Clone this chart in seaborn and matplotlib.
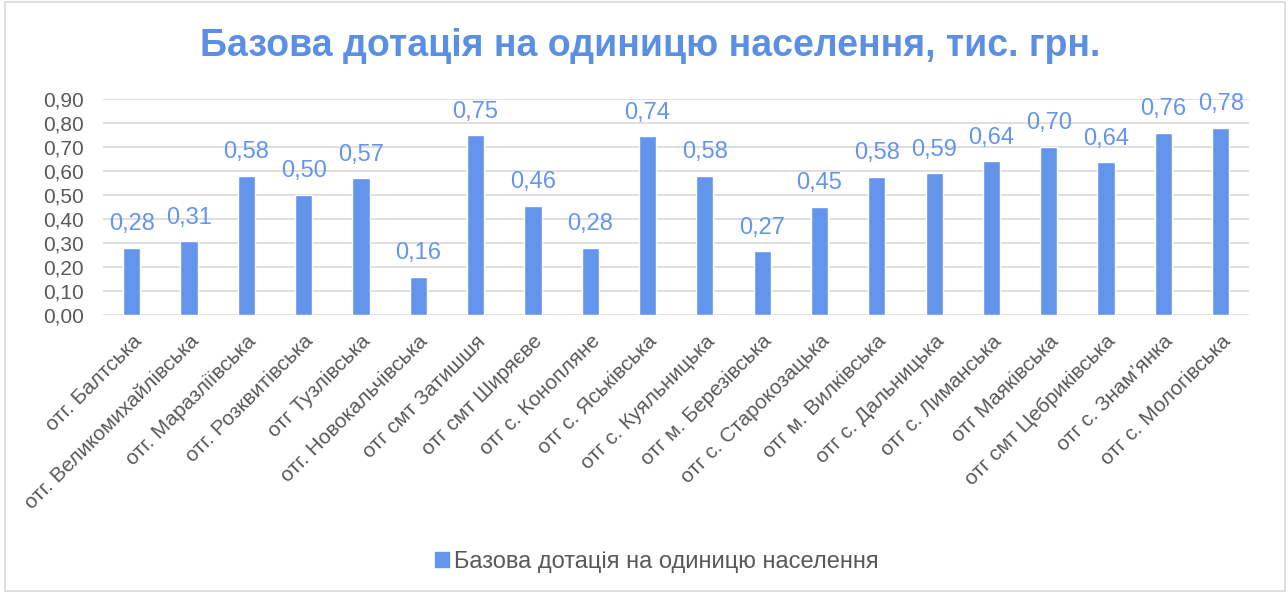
import matplotlib
matplotlib.use("Agg")
import matplotlib.pyplot as plt
import seaborn as sns
import pandas as pd
from matplotlib.patches import Patch, Rectangle

# data
hromadas = [
    "отг. Балтська", "отг. Великомихайлівська", "отг. Маразліївська",
    "отг. Розквитівська", "отг Тузлівська", "отг. Новокальчівська",
    "отг смт Затишшя", "отг смт Ширяєве", "отг с. Конопляне",
    "отг с. Яськівська", "отг с. Куяльницька", "отг м. Березівська",
    "отг с. Старокозацька", "отг м. Вилківська", "отг с. Дальницька",
    "отг с. Лиманська", "отг Маяківська", "отг смт Цебриківська",
    "отг с. Знам\u2019янка", "отг с. Мологівська",
]
dotation = [0.28, 0.306, 0.58, 0.50, 0.57, 0.16, 0.75, 0.456, 0.28, 0.745,
            0.58, 0.266, 0.45, 0.576, 0.59, 0.64, 0.70, 0.636, 0.76, 0.78]
value_labels = ["0,28", "0,31", "0,58", "0,50", "0,57", "0,16", "0,75", "0,46",
                "0,28", "0,74", "0,58", "0,27", "0,45", "0,58", "0,59", "0,64",
                "0,70", "0,64", "0,76", "0,78"]
series_name = "Базова дотація на одиницю населення"
title = "Базова дотація на одиницю населення, тис. грн."

bar_color = "#6495ED"
text_grey = "#595959"

df = pd.DataFrame({"hromada": hromadas, "value": dotation})

sns.set_theme(style="white")
plt.rcParams["font.family"] = ["Liberation Sans", "DejaVu Sans"]

fig = plt.figure(figsize=(12.88, 5.93), dpi=100)
ax = fig.add_axes([0.08, 0.469, 0.89, 0.364])

sns.barplot(data=df, x="hromada", y="value", color=bar_color,
            width=0.3, saturation=1, ax=ax)

# data labels above bars
for i, (v, lab) in enumerate(zip(dotation, value_labels)):
    ax.annotate(lab, (i, v), xytext=(0, 9),
                textcoords="offset points", ha="center", va="bottom",
                fontsize=17, color=bar_color)

ax.set_ylim(0, 0.9)
ax.set_xlim(-0.5, len(hromadas) - 0.5)
ticks = [i / 10 for i in range(10)]
ax.set_yticks(ticks)
ax.set_yticklabels([f"{t:.2f}".replace(".", ",") for t in ticks],
                   fontsize=15, color=text_grey)
ax.set_xticks(range(len(hromadas)))
ax.set_xticklabels(hromadas, rotation=45, ha="right", rotation_mode="anchor",
                   fontsize=15, color=text_grey)
ax.tick_params(axis="x", length=0, pad=12)
ax.tick_params(axis="y", length=0, pad=14)
ax.set_xlabel("")
ax.set_ylabel("")
ax.yaxis.grid(True, color="#D9D9D9", linewidth=1.2)
ax.set_axisbelow(True)
for s in ax.spines.values():
    s.set_visible(False)

fig.suptitle(title, x=0.505, y=0.952, fontsize=27, fontweight="bold",
             color="#5B8FE3")

fig.legend(handles=[Patch(color=bar_color, label=series_name)],
           loc="center", bbox_to_anchor=(0.51, 0.052), frameon=False,
           fontsize=17, handlelength=0.6, handleheight=0.6,
           handletextpad=0.2, labelcolor=text_grey)

# chart border
fig.patches.append(Rectangle((0.004, 0.003), 0.994, 0.994,
                             transform=fig.transFigure, fill=False,
                             edgecolor="#D9D9D9", linewidth=1.2))

fig.savefig("out.png", dpi=100)
